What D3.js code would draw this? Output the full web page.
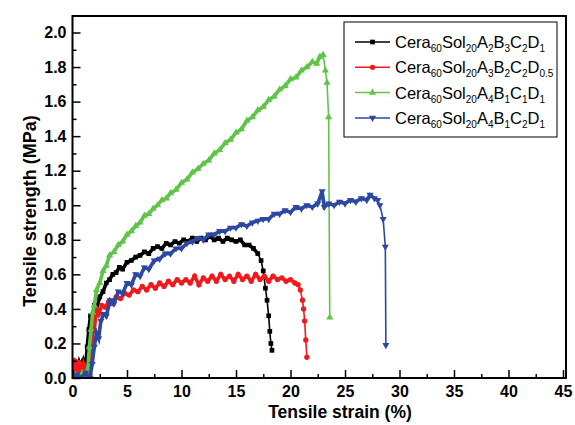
<!DOCTYPE html>
<html>
<head>
<meta charset="utf-8">
<script src="https://cdn.jsdelivr.net/npm/d3@7"></script>
<style>
  body { margin: 0; background: #fff; }
  text { font-family: "Liberation Sans", Arial, sans-serif; }
</style>
</head>
<body>
<div id="chart"></div>
<script>
// series data (strain %, strength MPa)
var blackX = [0,0.2,0.4,0.6,0.8,1.0,1.2,1.35,1.5,1.65,1.8,2.0,2.2,2.5,2.8,3.1,3.4,3.7,4.0,4.3,4.6,5.0,5.4,5.8,6.2,6.6,7.0,7.4,7.8,8.2,8.6,9.0,9.4,9.8,10.2,10.6,11.0,11.4,11.8,12.2,12.6,13.0,13.4,13.8,14.2,14.6,15.0,15.4,15.8,16.2,16.6,17.0,17.3,17.5,17.7,17.85,18.0,18.1,18.2,18.3];
var blackY = [0.02,0.08,0.04,0.09,0.05,0.10,0.06,0.18,0.28,0.36,0.33,0.42,0.40,0.47,0.50,0.55,0.57,0.60,0.61,0.64,0.63,0.67,0.68,0.70,0.71,0.73,0.72,0.75,0.76,0.75,0.78,0.77,0.79,0.78,0.80,0.79,0.81,0.79,0.81,0.80,0.82,0.80,0.81,0.79,0.81,0.80,0.79,0.80,0.77,0.77,0.75,0.72,0.68,0.62,0.52,0.45,0.36,0.27,0.20,0.16];

var redX = [0,0.2,0.4,0.6,0.8,1.0,1.2,1.4,1.6,1.8,1.9,2.0,2.2,2.4,2.7,3.0,3.3,3.6,4.0,4.4,4.8,5.2,5.6,6.0,6.4,6.8,7.2,7.6,8.0,8.4,8.8,9.2,9.6,10.0,10.4,10.8,11.2,11.6,12.0,12.4,12.8,13.2,13.6,14.0,14.4,14.8,15.2,15.6,16.0,16.4,16.8,17.2,17.6,18.0,18.4,18.8,19.2,19.6,20.0,20.4,20.7,20.9,21.1,21.2,21.3,21.4,21.5];
var redY = [0.05,0.10,0.03,0.09,0.04,0.08,0.03,0.06,0.02,0.20,0.35,0.28,0.40,0.37,0.42,0.41,0.44,0.43,0.47,0.46,0.49,0.48,0.51,0.50,0.53,0.51,0.54,0.52,0.55,0.53,0.56,0.54,0.57,0.55,0.57,0.55,0.59,0.54,0.58,0.56,0.59,0.56,0.60,0.57,0.59,0.56,0.60,0.57,0.59,0.56,0.60,0.57,0.59,0.56,0.59,0.57,0.58,0.56,0.57,0.55,0.54,0.51,0.45,0.40,0.33,0.22,0.12];

var greenX = [0,0.3,0.6,0.9,1.2,1.4,1.55,1.7,1.85,2.0,2.2,2.5,2.8,3.1,3.4,3.8,4.2,4.6,5.0,5.4,5.8,6.2,6.6,7.0,7.4,7.8,8.2,8.6,9.0,9.5,10.0,10.5,11.0,11.5,12.0,12.5,13.0,13.5,14.0,14.5,15.0,15.5,16.0,16.5,17.0,17.5,18.0,18.5,19.0,19.5,20.0,20.5,21.0,21.5,22.0,22.4,22.7,23.0,23.2,23.35,23.5,23.6];
var greenY = [0.00,0.02,0.00,0.03,0.00,0.05,0.18,0.28,0.38,0.42,0.51,0.55,0.62,0.65,0.71,0.73,0.77,0.79,0.83,0.85,0.88,0.90,0.94,0.95,0.98,1.00,1.03,1.04,1.07,1.09,1.13,1.15,1.19,1.21,1.24,1.26,1.30,1.32,1.36,1.38,1.42,1.44,1.49,1.51,1.55,1.57,1.61,1.63,1.67,1.69,1.73,1.74,1.78,1.80,1.83,1.82,1.86,1.87,1.78,1.71,1.51,0.35];

var blueX = [0,0.4,0.8,1.2,1.6,1.8,2.0,2.2,2.4,2.6,2.85,3.1,3.46,3.8,4.2,4.6,5.0,5.4,5.8,6.2,6.6,7.0,7.5,8.0,8.5,9.0,9.5,10.0,10.5,11.0,11.5,12.0,12.5,13.0,13.5,14.0,14.5,15.0,15.5,16.0,16.5,17.0,17.5,18.0,18.5,19.0,19.5,20.0,20.5,21.0,21.5,22.0,22.5,22.9,23.1,23.5,24.0,24.5,25.0,25.5,26.0,26.5,27.0,27.3,27.7,28.0,28.2,28.5,28.7,28.75];
var blueY = [0.00,0.02,0.00,0.03,0.00,0.08,0.18,0.26,0.23,0.33,0.37,0.36,0.45,0.43,0.50,0.49,0.55,0.54,0.60,0.59,0.64,0.63,0.68,0.69,0.72,0.72,0.75,0.75,0.78,0.79,0.81,0.80,0.83,0.83,0.85,0.85,0.87,0.87,0.89,0.88,0.90,0.91,0.92,0.92,0.95,0.95,0.97,0.96,0.99,0.98,1.00,0.99,1.01,1.08,0.99,1.01,1.00,1.02,1.01,1.03,1.02,1.04,1.03,1.06,1.04,1.03,1.00,0.92,0.76,0.19];

var xTicks = [0,5,10,15,20,25,30,35,40,45];
var yTicks = [0.0,0.2,0.4,0.6,0.8,1.0,1.2,1.4,1.6,1.8,2.0];

// bandTo: strain where the noisy thick band ends and the thin failure drop starts
var series = [
  {x: blackX, y: blackY, color: "#000000", sym: d3.symbolSquare,   sub: ["60","20","2","3","2","1"],   bandTo: 17.0},
  {x: redX,   y: redY,   color: "#f0191e", sym: d3.symbolCircle,   sub: ["60","20","3","2","2","0.5"], bandTo: 20.7},
  {x: greenX, y: greenY, color: "#5fc448", sym: d3.symbolTriangle, sub: ["60","20","4","1","1","1"],   bandTo: 23.0},
  {x: blueX,  y: blueY,  color: "#2c48a0", sym: d3.symbolTriangle, sub: ["60","20","4","1","2","1"],   bandTo: 28.0, flip: true}
];

var W = 575, H = 425;
var plotL = 72.5, plotR = 566, plotT = 16, plotB = 378;

var svg = d3.select("#chart")
  .append("svg")
    .attr("width", W)
    .attr("height", H);

var x = d3.scaleLinear().domain([0, 45]).range([plotL, 563]);
var y = d3.scaleLinear().domain([0, 2]).range([plotB, 32.5]);

// clip so lines stay in frame
svg.append("clipPath").attr("id", "clip")
  .append("rect").attr("x", plotL).attr("y", plotT).attr("width", plotR - plotL).attr("height", plotB - plotT);

var plot = svg.append("g").attr("clip-path", "url(#clip)");

var line = d3.line()
  .x(function(d) { return x(d[0]); })
  .y(function(d) { return y(d[1]); });

series.forEach(function(s) {
  var pts = s.x.map(function(v, i) { return [v, s.y[i]]; });
  var band = pts.filter(function(d) { return d[0] <= s.bandTo; });
  // thin line over whole curve
  plot.append("path")
    .datum(pts)
    .attr("fill", "none")
    .attr("stroke", s.color)
    .attr("stroke-width", 1.6)
    .attr("d", line);
  // thick noisy band
  plot.append("path")
    .datum(band)
    .attr("fill", "none")
    .attr("stroke", s.color)
    .attr("stroke-width", 3.6)
    .attr("stroke-linejoin", "miter")
    .attr("d", line);
  plot.selectAll(null)
    .data(pts)
    .enter()
    .append("path")
      .attr("d", d3.symbol().type(s.sym).size(22))
      .attr("transform", function(d) {
        return "translate(" + x(d[0]) + "," + y(d[1]) + ")" + (s.flip ? " rotate(180)" : "");
      })
      .attr("fill", s.color);
});

// X axis
var xAxis = svg.append("g")
  .attr("transform", "translate(0," + plotB + ")")
  .call(d3.axisBottom(x).tickValues(xTicks).tickSizeInner(-8).tickSizeOuter(0).tickPadding(8).tickFormat(d3.format("d")));
xAxis.select(".domain").remove();
xAxis.selectAll("text").attr("font-size", 16).attr("font-weight", "bold").attr("font-family", "Liberation Sans, Arial, sans-serif");
xAxis.selectAll("line").attr("stroke-width", 1.5);

var xMinor = svg.append("g")
  .attr("transform", "translate(0," + plotB + ")")
  .call(d3.axisBottom(x).tickValues(d3.range(2.5, 45, 5)).tickSizeInner(-4).tickSizeOuter(0).tickFormat(""));
xMinor.select(".domain").remove();
xMinor.selectAll("line").attr("stroke-width", 1.5);

// Y axis
var yAxis = svg.append("g")
  .attr("transform", "translate(" + plotL + ",0)")
  .call(d3.axisLeft(y).tickValues(yTicks).tickSizeInner(-8).tickSizeOuter(0).tickPadding(6).tickFormat(d3.format(".1f")));
yAxis.select(".domain").remove();
yAxis.selectAll("text").attr("font-size", 16).attr("font-weight", "bold").attr("font-family", "Liberation Sans, Arial, sans-serif");
yAxis.selectAll("line").attr("stroke-width", 1.5);

var yMinor = svg.append("g")
  .attr("transform", "translate(" + plotL + ",0)")
  .call(d3.axisLeft(y).tickValues(d3.range(0.1, 2, 0.2)).tickSizeInner(-4).tickSizeOuter(0).tickFormat(""));
yMinor.select(".domain").remove();
yMinor.selectAll("line").attr("stroke-width", 1.5);

// frame
svg.append("rect")
  .attr("x", plotL).attr("y", plotT)
  .attr("width", plotR - plotL).attr("height", plotB - plotT)
  .attr("fill", "none").attr("stroke", "#000").attr("stroke-width", 2);

// axis titles
svg.append("text")
  .attr("x", 340).attr("y", 418)
  .attr("text-anchor", "middle")
  .attr("font-size", 17.5).attr("font-weight", "bold")
  .text("Tensile strain (%)");

svg.append("text")
  .attr("transform", "translate(36,211) rotate(-90)")
  .attr("text-anchor", "middle")
  .attr("font-size", 18).attr("font-weight", "bold")
  .text("Tensile strength (MPa)");

// legend
var lg = svg.append("g");
lg.append("rect")
  .attr("x", 344).attr("y", 22).attr("width", 213).attr("height", 115)
  .attr("fill", "#fff").attr("stroke", "#000").attr("stroke-width", 1);

var parts = ["Cera", "Sol", "A", "B", "C", "D"];
series.forEach(function(s, i) {
  var cy = 42 + i * 25.3;
  lg.append("line")
    .attr("x1", 355).attr("x2", 390).attr("y1", cy).attr("y2", cy)
    .attr("stroke", s.color).attr("stroke-width", 1.5);
  lg.append("path")
    .attr("d", d3.symbol().type(s.sym).size(22))
    .attr("transform", "translate(372.5," + cy + ")" + (s.flip ? " rotate(180)" : ""))
    .attr("fill", s.color);
  var t = lg.append("text")
    .attr("x", 395).attr("y", cy + 6)
    .attr("font-size", 16.5);
  parts.forEach(function(p, j) {
    t.append("tspan").text(p).attr("dy", j === 0 ? 0 : -4).attr("font-size", 16.5);
    t.append("tspan").text(s.sub[j]).attr("dy", 4).attr("font-size", 10);
  });
});
</script>
</body>
</html>
